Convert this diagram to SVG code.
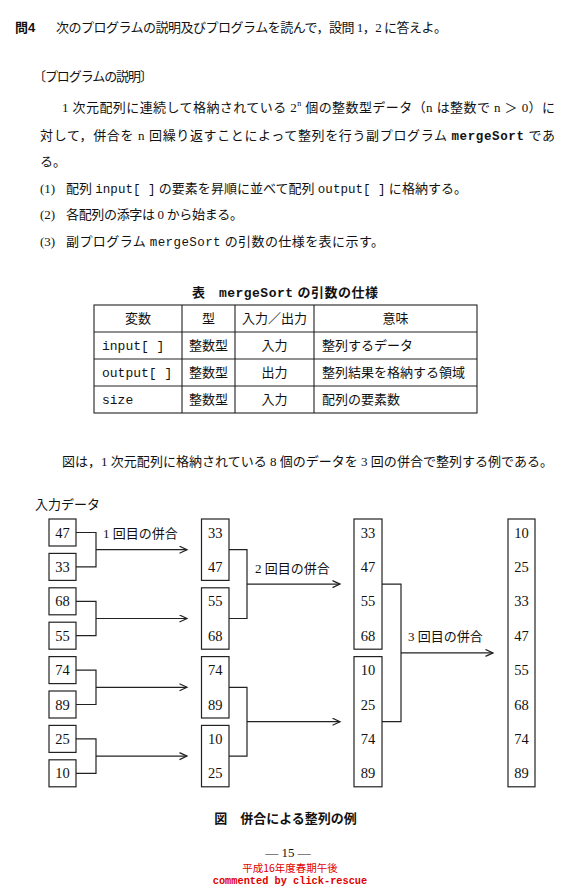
<svg xmlns="http://www.w3.org/2000/svg" width="580" height="890" viewBox="0 0 580 890">
<defs>
<style>
.t{font-family:'Liberation Serif','Noto Sans CJK JP',serif;font-size:13px;fill:#111}
.m{font-family:'Liberation Mono','Noto Sans CJK JP',monospace}
.b{font-family:'Liberation Sans','Noto Sans CJK JP',sans-serif;font-weight:bold;font-size:13px;fill:#111}
.num{font-family:'Liberation Serif',serif;font-size:14.5px;fill:#111;text-anchor:middle}
.box{fill:#fff;stroke:#222;stroke-width:1.2}
.ln{fill:none;stroke:#222;stroke-width:1.2}
.tb{fill:none;stroke:#222;stroke-width:1.1}
.red{fill:#e00000;text-anchor:middle}
</style>
<marker id="ar" markerWidth="10" markerHeight="10" refX="8" refY="4" orient="auto" markerUnits="userSpaceOnUse">
<path d="M0.5,0.5 L8,4 L0.5,7.5" fill="none" stroke="#222" stroke-width="1.2"/>
</marker>
</defs>
<rect width="580" height="890" fill="#fff"/>

<g id="header">
<text class="b" x="15" y="32" font-size="13.5">問4</text>
<text class="t" x="56" y="32" textLength="391" lengthAdjust="spacing">次のプログラムの説明及びプログラムを読んで，設問 1，2 に答えよ。</text>
</g>

<g id="description">
<text class="t" x="33" y="81" textLength="120" lengthAdjust="spacing">〔プログラムの説明〕</text>
<text class="t" x="62" y="112" textLength="493" lengthAdjust="spacing">1 次元配列に連続して格納されている 2<tspan font-size="8" dy="-6">n</tspan><tspan dy="6"> 個の整数型データ（n は整数で n ＞ 0）に</tspan></text>
<text class="t" x="40" y="140" textLength="515" lengthAdjust="spacing">対して，併合を n 回繰り返すことによって整列を行う副プログラム <tspan class="m" font-weight="bold" font-size="12.5">mergeSort</tspan> であ</text>
<text class="t" x="40" y="166">る。</text>
<text class="t" x="40" y="193">(1)</text>
<text class="t" x="66" y="193" textLength="401" lengthAdjust="spacing">配列 <tspan class="m" font-size="12.5">input[ ]</tspan> の要素を昇順に並べて配列 <tspan class="m" font-size="12.5">output[ ]</tspan> に格納する。</text>
<text class="t" x="40" y="219">(2)</text>
<text class="t" x="66" y="219" textLength="177" lengthAdjust="spacing">各配列の添字は 0 から始まる。</text>
<text class="t" x="40" y="246">(3)</text>
<text class="t" x="66" y="246" textLength="318" lengthAdjust="spacing">副プログラム <tspan class="m" font-size="12.5">mergeSort</tspan> の引数の仕様を表に示す。</text>
</g>

<g id="table">
<text class="b" x="285" y="297" text-anchor="middle" textLength="186" lengthAdjust="spacing">表　<tspan class="m">mergeSort</tspan> の引数の仕様</text>
<rect class="tb" x="94" y="305" width="383" height="108" stroke-width="1.4"/>
<path class="tb" d="M94,332 H477 M94,359 H477 M94,386 H477 M182,305 V413 M235,305 V413 M314,305 V413"/>
<g class="t" text-anchor="middle">
<text x="138" y="322.5">変数</text>
<text x="208.5" y="322.5">型</text>
<text x="274.5" y="322.5">入力／出力</text>
<text x="395.5" y="322.5">意味</text>
<text x="208.5" y="349.5">整数型</text>
<text x="274.5" y="349.5">入力</text>
<text x="208.5" y="376.5">整数型</text>
<text x="274.5" y="376.5">出力</text>
<text x="208.5" y="403.5">整数型</text>
<text x="274.5" y="403.5">入力</text>
</g>
<g class="t m" font-size="12">
<text x="102" y="349.5">input[ ]</text>
<text x="102" y="376.5">output[ ]</text>
<text x="102" y="403.5">size</text>
</g>
<g class="t">
<text x="322" y="349.5">整列するデータ</text>
<text x="322" y="376.5">整列結果を格納する領域</text>
<text x="322" y="403.5">配列の要素数</text>
</g>
</g>

<text class="t" x="62" y="466" textLength="491" lengthAdjust="spacing">図は，1 次元配列に格納されている 8 個のデータを 3 回の併合で整列する例である。</text>

<g id="figure">
<text class="t" x="35" y="509">入力データ</text>

<g id="col1">
<rect class="box" x="49" y="519" width="27" height="27"/><text class="num" x="62.5" y="537.5">47</text>
<rect class="box" x="49" y="553.4" width="27" height="27"/><text class="num" x="62.5" y="571.9">33</text>
<rect class="box" x="49" y="587.8" width="27" height="27"/><text class="num" x="62.5" y="606.3">68</text>
<rect class="box" x="49" y="622.2" width="27" height="27"/><text class="num" x="62.5" y="640.7">55</text>
<rect class="box" x="49" y="656.6" width="27" height="27"/><text class="num" x="62.5" y="675.1">74</text>
<rect class="box" x="49" y="691" width="27" height="27"/><text class="num" x="62.5" y="709.5">89</text>
<rect class="box" x="49" y="725.4" width="27" height="27"/><text class="num" x="62.5" y="743.9">25</text>
<rect class="box" x="49" y="759.8" width="27" height="27"/><text class="num" x="62.5" y="778.3">10</text>
</g>

<g id="col2">
<rect class="box" x="201.5" y="519" width="27.5" height="61.4"/>
<text class="num" x="215.2" y="537.5">33</text><text class="num" x="215.2" y="571.9">47</text>
<rect class="box" x="201.5" y="587.8" width="27.5" height="61.4"/>
<text class="num" x="215.2" y="606.3">55</text><text class="num" x="215.2" y="640.7">68</text>
<rect class="box" x="201.5" y="656.6" width="27.5" height="61.4"/>
<text class="num" x="215.2" y="675.1">74</text><text class="num" x="215.2" y="709.5">89</text>
<rect class="box" x="201.5" y="725.4" width="27.5" height="61.4"/>
<text class="num" x="215.2" y="743.9">10</text><text class="num" x="215.2" y="778.3">25</text>
</g>

<g id="col3">
<rect class="box" x="354" y="519" width="28" height="130.2"/>
<text class="num" x="368" y="537.5">33</text><text class="num" x="368" y="571.9">47</text>
<text class="num" x="368" y="606.3">55</text><text class="num" x="368" y="640.7">68</text>
<rect class="box" x="354" y="656.6" width="28" height="130.2"/>
<text class="num" x="368" y="675.1">10</text><text class="num" x="368" y="709.5">25</text>
<text class="num" x="368" y="743.9">74</text><text class="num" x="368" y="778.3">89</text>
</g>

<g id="col4">
<rect class="box" x="508" y="519" width="27" height="267.8"/>
<text class="num" x="521.5" y="537.5">10</text><text class="num" x="521.5" y="571.9">25</text>
<text class="num" x="521.5" y="606.3">33</text><text class="num" x="521.5" y="640.7">47</text>
<text class="num" x="521.5" y="675.1">55</text><text class="num" x="521.5" y="709.5">68</text>
<text class="num" x="521.5" y="743.9">74</text><text class="num" x="521.5" y="778.3">89</text>
</g>

<g id="connectors">
<path class="ln" d="M76,532.5 H96 V566.9 H76 M76,601.3 H96 V635.7 H76 M76,670.1 H96 V704.5 H76 M76,738.9 H96 V773.3 H76"/>
<path class="ln" marker-end="url(#ar)" d="M96,549.7 H187"/>
<path class="ln" marker-end="url(#ar)" d="M96,618.5 H187"/>
<path class="ln" marker-end="url(#ar)" d="M96,687.3 H187"/>
<path class="ln" marker-end="url(#ar)" d="M96,756.1 H187"/>
<path class="ln" d="M229,549.7 H247 V618.5 H229 M229,687.3 H247 V756.1 H229"/>
<path class="ln" marker-end="url(#ar)" d="M247,584.1 H340"/>
<path class="ln" marker-end="url(#ar)" d="M247,721.7 H340"/>
<path class="ln" d="M382,584.1 H401 V721.7 H382"/>
<path class="ln" marker-end="url(#ar)" d="M401,652.9 H493"/>
</g>

<g id="labels">
<text class="t" x="103" y="538">1 回目の併合</text>
<text class="t" x="255" y="573">2 回目の併合</text>
<text class="t" x="408" y="641">3 回目の併合</text>
</g>

<text class="b" x="285.5" y="823" text-anchor="middle">図　併合による整列の例</text>
</g>

<g id="footer">
<text class="t" x="288" y="857" text-anchor="middle" font-size="13.5">— 15 —</text>
<text class="red" x="290" y="872" font-family="'Noto Sans CJK JP',sans-serif" font-size="10.5">平成16年度春期午後</text>
<text class="red" x="290" y="884" font-family="'Liberation Mono',monospace" font-weight="bold" font-size="10.3">commented by click-rescue</text>
</g>
</svg>
